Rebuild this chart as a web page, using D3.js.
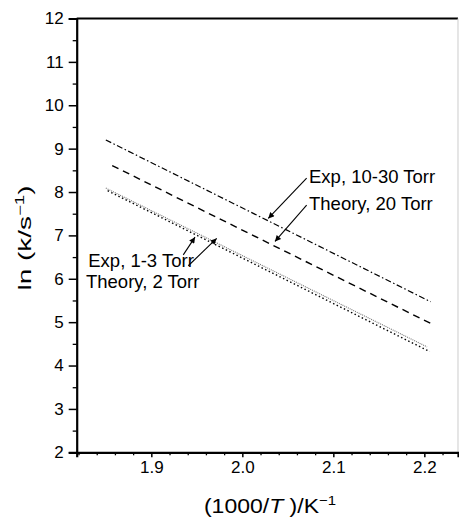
<!DOCTYPE html>
<html>
<head>
<meta charset="utf-8">
<script src="https://cdn.jsdelivr.net/npm/d3@7"></script>
<style>
  body { margin: 0; background: #fff; }
  svg { display: block; font-family: "Liberation Sans", Arial, sans-serif; }
</style>
</head>
<body>
<div id="chart"></div>
<script>
// line series: two end points each (x = 1000/T, y = ln k)
const seriesNames = ['Exp, 10-30 Torr', 'Theory, 20 Torr', 'Exp, 1-3 Torr', 'Theory, 2 Torr'];
const seriesX = [[1.850, 2.207], [1.857, 2.207], [1.850, 2.203], [1.852, 2.206]];
const seriesY = [[9.20, 5.47], [8.61, 4.97], [8.09, 4.43], [8.03, 4.32]];

const yTicks = [2, 3, 4, 5, 6, 7, 8, 9, 10, 11, 12];
const xTicks = [1.9, 2.0, 2.1, 2.2];

// annotation labels and arrows, in data units
const labelText = ['Exp, 10-30 Torr', 'Theory, 20 Torr', 'Exp, 1-3 Torr', 'Theory, 2 Torr'];
const labelX = [2.0733, 2.0733, 1.8307, 1.8282];
const labelY = [8.20, 7.59, 6.28, 5.78];
const arrowFrom = [[2.0707, 8.32], [2.0707, 7.70], [1.9351, 6.55], [1.9406, 6.30]];
const arrowTo = [[2.0285, 7.39], [2.0359, 6.86], [1.9480, 6.96], [1.9718, 6.93]];

var W = 459, H = 519;
var margin = { top: 18.5, right: 1, bottom: 66.7, left: 76.7 };
var width = W - margin.left - margin.right;
var height = H - margin.top - margin.bottom;

var x = d3.scaleLinear().domain([1.818, 2.237]).range([0, width]);
var y = d3.scaleLinear().domain([2, 12]).range([height, 0]);

var svg = d3.select('#chart').append('svg')
  .attr('width', W)
  .attr('height', H);

svg.append('defs').append('marker')
  .attr('id', 'arr')
  .attr('viewBox', '0 0 10 10')
  .attr('refX', 10).attr('refY', 5)
  .attr('markerWidth', 9).attr('markerHeight', 6)
  .attr('markerUnits', 'userSpaceOnUse')
  .attr('orient', 'auto')
  .append('path')
  .attr('d', 'M0,0 L10,5 L0,10 Z')
  .attr('fill', '#000');

var g = svg.append('g')
  .attr('transform', 'translate(' + margin.left + ',' + margin.top + ')');

// top + right frame
g.append('line')
  .attr('x1', 0).attr('x2', width).attr('y1', 0).attr('y2', 0)
  .attr('stroke', '#000').attr('stroke-width', 2);
g.append('line')
  .attr('x1', width).attr('x2', width).attr('y1', 0).attr('y2', height)
  .attr('stroke', '#ccc').attr('stroke-width', 1);

// minor ticks
var yMinor = d3.range(2.5, 12, 1);
g.append('g')
  .call(d3.axisLeft(y).tickValues(yMinor).tickSize(4).tickFormat(''))
  .call(a => a.select('.domain').remove())
  .selectAll('line').attr('stroke-width', 1.3);

var xMinor = d3.range(1.82, 2.236, 0.02).filter(v => xTicks.every(t => Math.abs(t - v) > 1e-6));
g.append('g')
  .attr('transform', 'translate(0,' + height + ')')
  .call(d3.axisBottom(x).tickValues(xMinor).tickSize(3).tickFormat(''))
  .call(a => a.select('.domain').remove())
  .selectAll('line').attr('stroke-width', 1.3);

var yAxis = g.append('g')
  .call(d3.axisLeft(y).tickValues(yTicks).tickSize(8).tickPadding(5).tickFormat(d3.format('d')));
yAxis.select('.domain').attr('stroke-width', 2.2);
yAxis.selectAll('line').attr('stroke-width', 1.5);
yAxis.selectAll('text').attr('font-size', 17).attr('fill', '#000')
  .attr('font-family', '"Liberation Sans", Arial, sans-serif');

var xAxis = g.append('g')
  .attr('transform', 'translate(0,' + height + ')')
  .call(d3.axisBottom(x).tickValues(xTicks).tickSize(5).tickPadding(4).tickFormat(d3.format('.1f')));
xAxis.select('.domain').attr('stroke-width', 2.2);
xAxis.selectAll('line').attr('stroke-width', 1.5);
xAxis.selectAll('text').attr('font-size', 17).attr('fill', '#000')
  .attr('font-family', '"Liberation Sans", Arial, sans-serif');

// lines
var styles = [
  { dash: '6,2.5,1.5,2.5', color: '#000', w: 1.2 },
  { dash: '7,5', color: '#000', w: 1.4 },
  { dash: '1,1', color: '#777', w: 1.1 },
  { dash: '1.5,2.5', color: '#000', w: 1.4 }
];
var line = d3.line().x(d => x(d[0])).y(d => y(d[1]));

seriesNames.forEach(function (name, i) {
  var pts = seriesX[i].map((v, j) => [v, seriesY[i][j]]);
  g.append('path')
    .datum(pts)
    .attr('class', 'series')
    .attr('d', line)
    .attr('fill', 'none')
    .attr('stroke', styles[i].color)
    .attr('stroke-width', styles[i].w)
    .attr('stroke-dasharray', styles[i].dash);
});

// annotations
labelText.forEach(function (t, i) {
  g.append('text')
    .attr('x', x(labelX[i]))
    .attr('y', y(labelY[i]))
    .attr('font-size', 18.5)
    .attr('fill', '#000')
    .text(t);
  g.append('line')
    .attr('x1', x(arrowFrom[i][0])).attr('y1', y(arrowFrom[i][1]))
    .attr('x2', x(arrowTo[i][0])).attr('y2', y(arrowTo[i][1]))
    .attr('stroke', '#000').attr('stroke-width', 1.1)
    .attr('marker-end', 'url(#arr)');
});

// axis titles
var xt = svg.append('text')
  .attr('transform', 'translate(270,512.5) scale(1.15,1)')
  .attr('text-anchor', 'middle')
  .attr('font-size', 20)
  .attr('fill', '#000');
xt.append('tspan').text('(1000/');
xt.append('tspan').attr('font-style', 'italic').text('T');
xt.append('tspan').text(' )/K');
xt.append('tspan').attr('dy', -8).attr('font-size', 13).text('\u22121');

var yt = svg.append('text')
  .attr('transform', 'translate(31,238) rotate(-90) scale(1.55,1)')
  .attr('text-anchor', 'middle')
  .attr('font-size', 18)
  .attr('fill', '#000');
yt.append('tspan').text('ln (k/s');
yt.append('tspan').attr('dy', -7).attr('font-size', 12).text('\u22121');
yt.append('tspan').attr('dy', 7).text(')');
</script>
</body>
</html>
